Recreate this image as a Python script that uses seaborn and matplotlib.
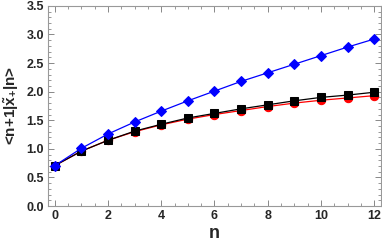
import numpy as np
import pandas as pd
import matplotlib
matplotlib.use('Agg')
import matplotlib.pyplot as plt
import seaborn as sns
from matplotlib.ticker import MultipleLocator

# values
n_vals = list(range(13))
red_vals = [0.707, 0.96, 1.15, 1.30, 1.42, 1.52, 1.60, 1.67, 1.74, 1.80, 1.85, 1.89, 1.93]
black_vals = [0.707, 0.96, 1.15, 1.31, 1.43, 1.54, 1.62, 1.70, 1.77, 1.84, 1.90, 1.94, 1.99]
blue_vals = [0.707, 1.01, 1.26, 1.47, 1.66, 1.84, 2.01, 2.18, 2.33, 2.48, 2.63, 2.78, 2.92]

sns.set_style('ticks')
plt.rcParams['font.family'] = ['Liberation Sans', 'DejaVu Sans']
plt.rcParams['font.weight'] = 'bold'
plt.rcParams['mathtext.fontset'] = 'custom'
plt.rcParams['mathtext.rm'] = 'Liberation Sans:bold'
plt.rcParams['mathtext.bf'] = 'Liberation Sans:bold'
plt.rcParams['mathtext.it'] = 'Liberation Sans:bold'

fig = plt.figure(figsize=(3.82, 2.45), dpi=100)
ax = fig.add_axes([0.126, 0.159, 0.871, 0.817])

df = pd.DataFrame({'n': n_vals, 'red': red_vals, 'black': black_vals, 'blue': blue_vals})

sns.lineplot(x='n', y='red', data=df, ax=ax, color='red', marker='o', markersize=6,
             markeredgecolor='red', linewidth=0.9)
sns.lineplot(x='n', y='black', data=df, ax=ax, color='black', marker='s', markersize=6,
             markeredgecolor='black', linewidth=0.9)
sns.lineplot(x='n', y='blue', data=df, ax=ax, color='blue', marker='D', markersize=5,
             markeredgecolor='blue', linewidth=0.9)

ax.set_xlim(-0.25, 12.25)
ax.set_ylim(0, 3.5)
ax.xaxis.set_major_locator(MultipleLocator(2))
ax.xaxis.set_minor_locator(MultipleLocator(0.5))
ax.yaxis.set_major_locator(MultipleLocator(0.5))
ax.yaxis.set_minor_locator(MultipleLocator(0.1))
ax.yaxis.set_major_formatter(matplotlib.ticker.FormatStrFormatter('%.1f'))

for s in ax.spines.values():
    s.set_visible(True)
    s.set_color('#999999')
    s.set_linewidth(0.8)

ax.tick_params(which='both', direction='in', top=True, right=True, color='#888888',
               labelsize=9, pad=3)
ax.tick_params(which='major', length=4, width=0.7)
ax.tick_params(which='minor', length=2, width=0.6)
for lbl in ax.get_xticklabels() + ax.get_yticklabels():
    lbl.set_fontweight('bold')

ax.set_xlabel('n', fontsize=13, fontweight='bold', labelpad=2)
ax.set_ylabel(r'<n+1|$\tilde{x}_{+}$|n>', fontsize=11, fontweight='bold', labelpad=4)

fig.savefig('out.png', dpi=100)
